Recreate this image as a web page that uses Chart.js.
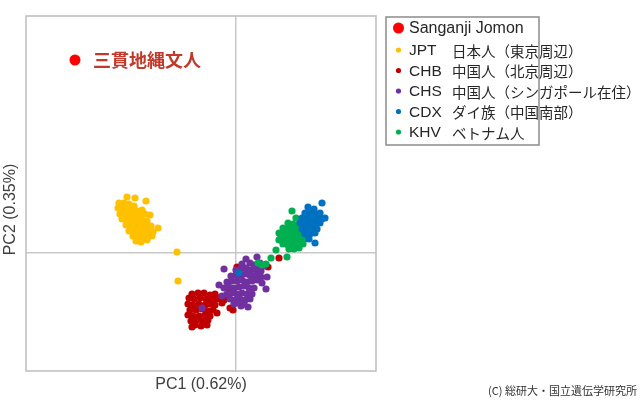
<!DOCTYPE html>
<html>
<head>
<meta charset="utf-8">
<script src="https://cdn.jsdelivr.net/npm/chart.js@4.4.1/dist/chart.umd.min.js"></script>
<style>
html,body{margin:0;padding:0;background:#fff;}
canvas{display:block;}
</style>
</head>
<body>
<canvas id="c" width="640" height="403"></canvas>
<script>
// Series labels
const seriesCodes = ["Sanganji Jomon", "JPT", "CHB", "CHS", "CDX", "KHV"];
const seriesNames = ["", "日本人（東京周辺）", "中国人（北京周辺）", "中国人（シンガポール在住）", "ダイ族（中国南部）", "ベトナム人"];
const seriesColors = ["#FF0000", "#FFC000", "#C00000", "#7030A0", "#0070C0", "#00B050"];
const annotationLabel = "三貫地縄文人";
const xTitle = "PC1 (0.62%)";
const yTitle = "PC2 (0.35%)";
const credit = "(C) 総研大・国立遺伝学研究所";
const xRange = [-210, 140];
const yRange = [-118, 237];

// Values as [PC1, PC2] (arbitrary units, origin at the cross lines)
const sanganji = [[-161, 193]];
const jpt = [[-109,56],[-101,55],[-90,52],[-117,50],[-112,50],[-107,49],[-102,47],[-118,45],[-114,44],[-109,44],[-104,43],[-99,42],[-94,43],[-116,39],[-111,38],[-106,38],[-101,37],[-96,38],[-91,39],[-86,38],[-114,34],[-109,33],[-104,32],[-99,32],[-94,33],[-89,32],[-110,28],[-105,27],[-100,27],[-95,27],[-90,28],[-85,27],[-78,25],[-107,22],[-102,22],[-97,21],[-92,22],[-87,22],[-83,21],[-103,17],[-98,16],[-93,17],[-88,16],[-84,17],[-100,12],[-95,11],[-89,13],[-59,1],[-58,-28]];
const chb = [[-44,-41],[-38,-40],[-32,-40],[-26,-42],[-21,-41],[-47,-45],[-42,-46],[-36,-45],[-30,-46],[-24,-47],[-19,-46],[-15,-44],[-48,-51],[-43,-52],[-37,-51],[-31,-52],[-26,-51],[-21,-52],[-46,-57],[-40,-57],[-34,-56],[-28,-58],[-23,-57],[-48,-62],[-43,-63],[-37,-63],[-31,-62],[-26,-63],[-45,-68],[-39,-67],[-33,-68],[-28,-67],[-41,-72],[-35,-73],[-29,-72],[-44,-74],[-12,-47],[-14,-50],[-7,-40],[-3,-37],[1,-14],[14,-22],[32,-14],[43,-5],[-6,-55],[-3,-57],[-19,-60],[-10,-44]];
const chs = [[10,-6],[21,-4],[30,-36],[31,-24],[-12,-16],[-17,-32],[12,-54],[5,-53],[26,-30],[23,-17],[6,-11],[14,-10],[18,-12],[24,-10],[28,-13],[0,-17],[5,-16],[10,-15],[15,-17],[20,-16],[25,-18],[-5,-23],[0,-22],[5,-22],[10,-21],[15,-23],[20,-22],[25,-24],[-9,-29],[-4,-28],[1,-28],[6,-27],[11,-29],[16,-28],[21,-27],[-12,-35],[-7,-34],[-2,-35],[3,-34],[8,-33],[13,-35],[18,-35],[-9,-41],[-4,-40],[1,-41],[6,-40],[11,-41],[16,-41],[-6,-46],[-1,-47],[4,-46],[9,-47],[14,-46],[-2,-51],[3,-50],[8,-51],[-34,-55],[-14,-43]];
const cdx = [[72,46],[86,50],[78,44],[69,40],[74,40],[79,39],[84,40],[66,35],[71,35],[76,34],[81,35],[86,34],[89,35],[64,30],[69,29],[74,30],[79,29],[84,30],[66,24],[71,24],[76,25],[81,24],[69,19],[74,19],[79,20],[79,10],[73,14],[3,-20]];
const khv = [[60,35],[64,33],[52,30],[57,29],[62,28],[67,29],[47,25],[52,24],[57,24],[62,23],[67,24],[43,20],[48,19],[53,19],[58,19],[63,18],[68,19],[44,14],[49,14],[54,13],[59,14],[64,13],[69,14],[47,9],[52,8],[57,9],[62,8],[67,9],[53,4],[58,4],[63,5],[56,42],[40,3],[35,-5],[51,-4],[22,-10],[26,-12],[30,-11],[43,13]];

const seriesData = [sanganji, jpt, chb, chs, cdx, khv];
const drawOrder = [0, 5, 4, 3, 1, 2]; // lower = on top

const toPts = arr => arr.map(p => ({x: p[0], y: p[1]}));

const datasets = seriesCodes.map((code, i) => ({
  label: code,
  data: toPts(seriesData[i]),
  backgroundColor: seriesColors[i],
  borderWidth: 0,
  pointRadius: i === 0 ? 5.5 : 3.6,
  pointHoverRadius: i === 0 ? 5.5 : 3.6,
  order: drawOrder[i]
}));

const overlay = {
  id: 'overlay',
  afterDraw(chart) {
    const ctx = chart.ctx;
    const a = chart.chartArea;
    ctx.save();
    // plot frame
    ctx.strokeStyle = '#BDBDBD';
    ctx.lineWidth = 1.5;
    ctx.strokeRect(a.left, a.top, a.right - a.left, a.bottom - a.top);

    // annotation next to the Sanganji point
    const meta = chart.getDatasetMeta(0);
    const pt = meta.data[0];
    ctx.fillStyle = '#C0392B';
    ctx.font = 'bold 18px "Noto Sans CJK JP"';
    ctx.textBaseline = 'middle';
    ctx.textAlign = 'left';
    ctx.fillText(annotationLabel, pt.x + 18, pt.y + 0.5);

    // axis titles
    ctx.fillStyle = '#404040';
    ctx.font = '16px "Liberation Sans", Arial';
    ctx.textAlign = 'center';
    ctx.fillText(xTitle, (a.left + a.right) / 2, 385);
    ctx.save();
    ctx.translate(11, (a.top + a.bottom) / 2 + 16);
    ctx.rotate(-Math.PI / 2);
    ctx.fillText(yTitle, 0, 0);
    ctx.restore();

    // legend
    const lx = 386, ly = 17, lw = 153, lh = 128;
    ctx.strokeStyle = '#8C8C8C';
    ctx.lineWidth = 1.5;
    ctx.strokeRect(lx, ly, lw, lh);
    const rows = [28, 50, 70.5, 91, 111.5, 132];
    seriesCodes.forEach((code, i) => {
      const y = rows[i];
      ctx.fillStyle = seriesColors[i];
      ctx.beginPath();
      ctx.arc(398.5, y, i === 0 ? 5.5 : 2.6, 0, Math.PI * 2);
      ctx.fill();
      ctx.fillStyle = '#262626';
      ctx.textAlign = 'left';
      ctx.font = (i === 0 ? '16px' : '15.5px') + ' "Liberation Sans", Arial';
      ctx.fillText(code, 409, y + 1);
      if (seriesNames[i]) {
        ctx.font = '14.5px "Noto Sans CJK JP"';
        ctx.fillText(seriesNames[i], 452, y + 1);
      }
    });

    // credit
    ctx.fillStyle = '#333333';
    ctx.font = '11px "Noto Sans CJK JP"';
    ctx.textAlign = 'right';
    ctx.fillText(credit, 637, 391);
    ctx.restore();
  }
};

const zeroGrid = (c) => (c.tick && c.tick.value === 0) ? '#C8C8C8' : 'rgba(0,0,0,0)';

new Chart(document.getElementById('c'), {
  type: 'scatter',
  data: { datasets },
  options: {
    responsive: false,
    animation: false,
    devicePixelRatio: 1,
    layout: { padding: { left: 26, top: 16, right: 264, bottom: 32 } },
    plugins: { legend: { display: false }, tooltip: { enabled: false } },
    scales: {
      x: {
        type: 'linear', min: xRange[0], max: xRange[1],
        afterBuildTicks: s => { s.ticks = [{value: 0}]; },
        ticks: { display: false },
        grid: { color: zeroGrid, lineWidth: 1.5, drawTicks: false },
        border: { display: false }
      },
      y: {
        type: 'linear', min: yRange[0], max: yRange[1],
        afterBuildTicks: s => { s.ticks = [{value: 0}]; },
        ticks: { display: false },
        grid: { color: zeroGrid, lineWidth: 1.5, drawTicks: false },
        border: { display: false }
      }
    }
  },
  plugins: [overlay]
});
</script>
</body>
</html>
